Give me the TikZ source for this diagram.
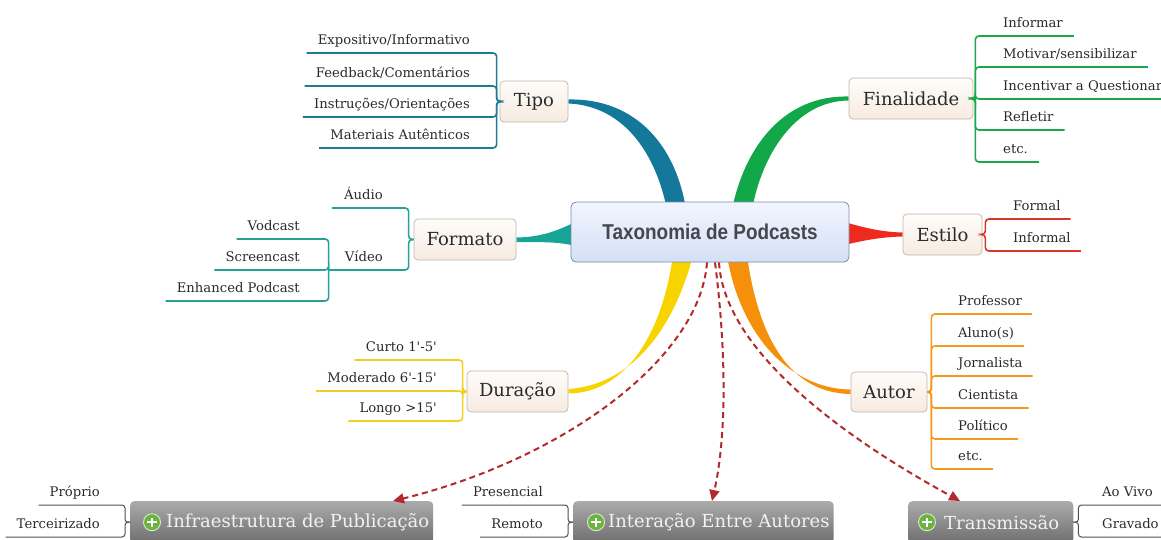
\documentclass[tikz,border=0pt]{standalone}
\usepackage{fontspec}
\setmainfont{DejaVu Serif}
\newfontfamily\titlefont{Liberation Sans}[FakeStretch=0.88]
\usetikzlibrary{arrows.meta}
\definecolor{cTipo}{HTML}{14789A}
\definecolor{cFin}{HTML}{12A84A}
\definecolor{cFmt}{HTML}{16A596}
\definecolor{cEst}{HTML}{EE2A1E}
\definecolor{cDur}{HTML}{F7D400}
\definecolor{cAut}{HTML}{F6900A}
\definecolor{lTipo}{HTML}{1E7B96}
\definecolor{lFin}{HTML}{1AA84B}
\definecolor{lFmt}{HTML}{22A396}
\definecolor{lEst}{HTML}{D8372A}
\definecolor{lDur}{HTML}{F2CF1F}
\definecolor{lAut}{HTML}{F39A1E}
\definecolor{lGray}{HTML}{505050}
\definecolor{cArr}{HTML}{B32A2E}
\definecolor{boxBorder}{HTML}{BDB5AD}
\definecolor{boxTop}{HTML}{FEFCFA}
\definecolor{boxBot}{HTML}{F7EBE0}
\definecolor{cenBorder}{HTML}{7D8AA5}
\definecolor{cenTop}{HTML}{F1F5FD}
\definecolor{cenBot}{HTML}{D3E0F7}
\definecolor{txt}{HTML}{2A2A2A}
\definecolor{titletxt}{HTML}{46464E}
\definecolor{grayTop}{HTML}{ABABAB}
\definecolor{grayBot}{HTML}{6E6E6E}
\definecolor{iconGreen}{HTML}{6DB33F}
\pgfdeclarelayer{bg}
\pgfsetlayers{bg,main}
\tikzset{
  mainbox/.style={rounded corners=4pt, draw=boxBorder, line width=0.7pt,
    top color=boxTop, bottom color=boxBot, text=txt, inner sep=0pt,
    font=\fontsize{18}{21}\selectfont},
  centrebox/.style={rounded corners=5pt, draw=cenBorder, line width=0.8pt,
    top color=cenTop, bottom color=cenBot, text=titletxt, inner sep=0pt,
    font=\titlefont\bfseries\fontsize{21.5}{24}\selectfont},
  collapsed/.style={rounded corners=4pt, draw=none,
    top color=grayTop, bottom color=grayBot, text=white!95!black, inner sep=0pt,
    font=\fontsize{18}{21}\selectfont},
  plusicon/.style={circle, fill=iconGreen, draw=white!75!iconGreen, line width=0.9pt,
    minimum size=17pt, inner sep=0pt,
    path picture={
      \draw[white, line width=2pt]
        ([xshift=-4.6pt]path picture bounding box.center) -- ([xshift=4.6pt]path picture bounding box.center);
      \draw[white, line width=2pt]
        ([yshift=-4.6pt]path picture bounding box.center) -- ([yshift=4.6pt]path picture bounding box.center);}},
  leaf/.style={inner sep=0pt, text depth=8.5pt, text=txt,
    font=\fontsize{13.2}{15}\selectfont},
  br/.style={line width=1.6pt, rounded corners=3.5pt},
  gbr/.style={line width=1pt, draw=lGray, rounded corners=3pt},
  darr/.style={draw=cArr, line width=2pt, dash pattern=on 6pt off 4pt,
    -{Triangle[length=11pt,width=10pt]}}
}
\begin{document}
\begin{tikzpicture}[x=1pt,y=-1pt]
\useasboundingbox (0,0) rectangle (1161,539);

% ---------- main nodes ----------
\node[centrebox, minimum width=278pt, minimum height=60pt] (centre) at (710,232) {Taxonomia de Podcasts};
\node[mainbox, minimum width=68pt, minimum height=41pt] (tipo) at (534,101.5) {Tipo};
\node[mainbox, minimum width=124pt, minimum height=41pt] (fin) at (911,98.5) {Finalidade};
\node[mainbox, minimum width=102pt, minimum height=41pt] (formato) at (465,239.5) {Formato};
\node[mainbox, minimum width=79pt, minimum height=41pt] (estilo) at (942.5,234.5) {Estilo};
\node[mainbox, minimum width=101pt, minimum height=41pt] (duracao) at (517.5,391.5) {Duração};
\node[mainbox, minimum width=76pt, minimum height=40pt] (autor) at (889,392) {Autor};

% ---------- main branches ----------
\begin{pgfonlayer}{bg}
\fill[cTipo] ([yshift=2pt]tipo.east) .. controls (635,98) and (676,145) .. ([xshift=-24pt,yshift=-8pt]centre.north)
  -- ([xshift=-43pt,yshift=-8pt]centre.north) .. controls (656,155) and (625,106) .. ([yshift=-2pt]tipo.east) -- cycle;
\fill[cFin] ([yshift=2pt]fin.west) .. controls (785,95) and (745,145) .. ([xshift=22pt,yshift=-8pt]centre.north)
  -- ([xshift=42pt,yshift=-8pt]centre.north) .. controls (762,155) and (795,101) .. ([yshift=-2pt]fin.west) -- cycle;
\fill[cDur] ([xshift=-37pt,yshift=7pt]centre.south) .. controls (662,335) and (625,393) .. ([yshift=-2pt]duracao.east)
  -- ([yshift=2.5pt]duracao.east) .. controls (628,385) and (672,335) .. ([xshift=-17pt,yshift=7pt]centre.south) -- cycle;
\fill[cAut] ([xshift=17pt,yshift=7pt]centre.south) .. controls (740,335) and (790,389) .. ([yshift=2.5pt]autor.west)
  -- ([yshift=-2pt]autor.west) .. controls (788,393) and (758,335) .. ([xshift=37pt,yshift=7pt]centre.south) -- cycle;
\fill[cFmt] ([yshift=2pt]formato.east) .. controls (545,237) and (560,229) .. ([xshift=5pt,yshift=10pt]centre.west)
  -- ([xshift=5pt,yshift=-14pt]centre.west) .. controls (560,242) and (545,242) .. ([yshift=-2.5pt]formato.east) -- cycle;
\fill[cEst] ([xshift=-5pt,yshift=10pt]centre.east) .. controls (865,228) and (882,232) .. ([yshift=2pt]estilo.west)
  -- ([yshift=-2pt]estilo.west) .. controls (882,237) and (865,240) .. ([xshift=-5pt,yshift=-13pt]centre.east) -- cycle;
\end{pgfonlayer}

% ---------- Tipo ----------
\node[leaf, anchor=south east] (t1) at (470,53) {Expositivo/Informativo};
\node[leaf, anchor=south east] (t2) at (470,86) {Feedback/Comentários};
\node[leaf, anchor=south east] (t3) at (470,117) {Instruções/Orientações};
\node[leaf, anchor=south east] (t4) at (470,148) {Materiais Autênticos};
\foreach \c in {t1,t2,t3,t4}
  \draw[br, draw=lTipo] (tipo.west) -- ++(-3,0) |- ([xshift=-11pt]\c.south west);

% ---------- Finalidade ----------
\node[leaf, anchor=south west] (f1) at (1003,36) {Informar};
\node[leaf, anchor=south west] (f2) at (1003,67) {Motivar/sensibilizar};
\node[leaf, anchor=south west] (f3) at (1003,99) {Incentivar a Questionar};
\node[leaf, anchor=south west] (f4) at (1003,130) {Refletir};
\node[leaf, anchor=south west] (f5) at (1003,162) {etc.};
\foreach \c in {f1,f2,f3,f4,f5}
  \draw[br, draw=lFin] (fin.east) -- ++(2,0) |- ([xshift=11pt]\c.south east);

% ---------- Formato ----------
\node[leaf, anchor=south east] (audio) at (383,208) {Áudio};
\node[leaf, anchor=south east] (video) at (383,270) {Vídeo};
\coordinate (vj) at ([xshift=-16pt]video.south west);
\node[leaf, anchor=south east] (vod) at (300,239) {Vodcast};
\node[leaf, anchor=south east] (scr) at (300,270) {Screencast};
\node[leaf, anchor=south east] (enh) at (300,301) {Enhanced Podcast};
\draw[br, draw=lFmt] (formato.west) -- ++(-5,0) |- ([xshift=-12pt]audio.south west);
\draw[br, draw=lFmt] (formato.west) -- ++(-5,0) |- (vj);
\foreach \c in {vod,scr,enh}
  \draw[br, draw=lFmt] (vj) |- ([xshift=-11pt]\c.south west);

% ---------- Estilo ----------
\node[leaf, anchor=south west] (e1) at (1013,219) {Formal};
\node[leaf, anchor=south west] (e2) at (1013,251) {Informal};
\foreach \c in {e1,e2}
  \draw[br, draw=lEst] (estilo.east) -- ++(3,0) |- ([xshift=10pt]\c.south east);

% ---------- Duracao ----------
\node[leaf, anchor=south east] (d1) at (437,360) {Curto 1\textquotesingle-5\textquotesingle};
\node[leaf, anchor=south east] (d2) at (437,391) {Moderado 6\textquotesingle-15\textquotesingle};
\node[leaf, anchor=south east] (d3) at (437,421) {Longo >15\textquotesingle};
\foreach \c in {d1,d2,d3}
  \draw[br, draw=lDur] (duracao.west) -- ++(-4,0) |- ([xshift=-11pt]\c.south west);

% ---------- Autor ----------
\node[leaf, anchor=south west] (a1) at (958,314) {Professor};
\node[leaf, anchor=south west] (a2) at (958,346) {Aluno(s)};
\node[leaf, anchor=south west] (a3) at (958,376) {Jornalista};
\node[leaf, anchor=south west] (a4) at (958,408) {Cientista};
\node[leaf, anchor=south west] (a5) at (958,439) {Político};
\node[leaf, anchor=south west] (a6) at (958,469) {etc.};
\foreach \c in {a1,a2,a3,a4,a5,a6}
  \draw[br, draw=lAut] (autor.east) -- ++(4,0) |- ([xshift=10pt]\c.south east);

% ---------- collapsed bottom nodes ----------
\node[collapsed, anchor=north west, minimum height=42pt] (infra) at (130,501)
  {\kern36pt Infraestrutura de Publicação\kern4pt};
\node[plusicon] (infraicon) at ([xshift=22pt]infra.west) {};
\node[collapsed, anchor=north west, minimum height=42pt] (inter) at (573,501)
  {\kern35pt Interação Entre Autores\kern4pt};
\node[plusicon] (intericon) at ([xshift=23pt]inter.west) {};
\node[collapsed, anchor=north west, minimum height=42pt] (trans) at (908,501)
  {\kern36pt Transmissão\kern14pt};
\node[plusicon] (transicon) at ([xshift=19pt]trans.west) {};

\node[leaf, anchor=south east] (p1) at (100,505) {Próprio};
\node[leaf, anchor=south east] (p2) at (100,537) {Terceirizado};
\foreach \c in {p1,p2}
  \draw[gbr] (infra.west) -- ++(-5,0) |- ([xshift=-11pt]\c.south west);

\node[leaf, anchor=south east] (i1) at (543,505) {Presencial};
\node[leaf, anchor=south east] (i2) at (543,537) {Remoto};
\foreach \c in {i1,i2}
  \draw[gbr] (inter.west) -- ++(-5,0) |- ([xshift=-11pt]\c.south west);

\node[leaf, anchor=south west] (r1) at (1102,505) {Ao Vivo};
\node[leaf, anchor=south west] (r2) at (1102,537) {Gravado};
\foreach \c in {r1,r2}
  \draw[gbr] (trans.east) -- ++(5,0) |- ([xshift=11pt]\c.south east);

% ---------- dashed relations ----------
\draw[darr] ([xshift=-3pt]centre.south) .. controls (700,360) and (560,460) .. ([xshift=263pt]infra.north west);
\draw[darr] ([xshift=5pt]centre.south) .. controls (725,340) and (728,430) .. ([xshift=139pt]inter.north west);
\draw[darr] ([xshift=9pt]centre.south) .. controls (725,365) and (885,460) .. ([xshift=52pt]trans.north west);
\end{tikzpicture}
\end{document}
